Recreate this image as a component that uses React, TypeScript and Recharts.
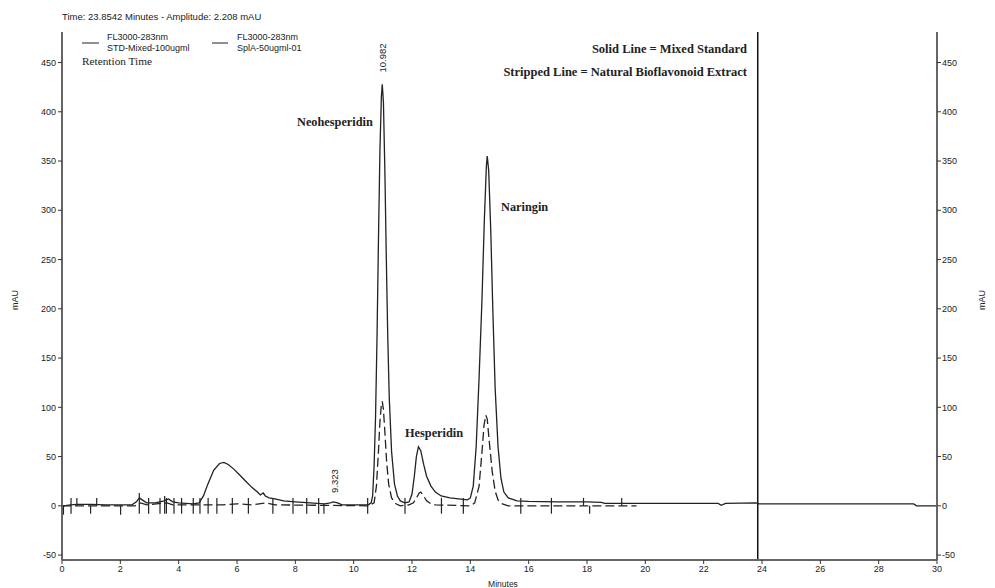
import React from 'react';
import { LineChart, Line, XAxis, YAxis, ReferenceLine } from 'recharts';

// Mixed standard (solid line): retention time (min), absorbance (mAU)
const stdTimes = [0, 0.05, 0.3, 0.5, 1.0, 1.5, 2.0, 2.4, 2.55, 2.65, 2.75, 2.9, 3.2, 3.5, 3.65, 3.8, 4.0, 4.5, 4.7, 4.85, 5.0, 5.2, 5.4, 5.55, 5.7, 5.9, 6.1, 6.3, 6.5, 6.7, 6.8, 6.9, 6.97, 7.1, 7.3, 7.6, 8.0, 8.5, 9.0, 9.2, 9.3, 9.45, 9.6, 10.0, 10.5, 10.6, 10.65, 10.7, 10.75, 10.8, 10.85, 10.9, 10.95, 10.98, 11.02, 11.07, 11.12, 11.17, 11.22, 11.3, 11.4, 11.5, 11.6, 11.75, 11.9, 12.0, 12.08, 12.15, 12.22, 12.3, 12.4, 12.5, 12.65, 12.8, 13.0, 13.3, 13.6, 13.9, 14.0, 14.1, 14.2, 14.3, 14.4, 14.48, 14.55, 14.58, 14.63, 14.7, 14.77, 14.85, 14.95, 15.05, 15.15, 15.3, 15.6, 16.0, 17.0, 18.0, 18.5, 18.6, 20.0, 22.5, 22.6, 22.75, 23.8, 23.9, 29.2, 29.3, 30];
const stdValues = [0, 0, 1, 1.5, 1.5, 1, 1, 1, 4, 8, 6, 3, 3, 5, 7, 4, 3, 2, 3, 10, 22, 36, 43, 44, 42, 37, 31, 25, 19, 14, 11, 13, 10, 8, 7, 5, 4, 3, 2, 3, 4, 3, 1, 1, 1, 3, 10, 40, 90, 170, 270, 360, 415, 428, 410, 340, 250, 170, 110, 55, 22, 10, 5, 3, 4, 12, 30, 50, 60, 56, 42, 30, 20, 14, 10, 8, 7, 6, 8, 20, 60, 130, 210, 290, 345, 355, 340, 280, 200, 120, 60, 28, 14, 8, 5, 4.5, 4, 4, 3.5, 2.5, 2.5, 2.5, 0.5, 2.5, 3, 2, 2, 0, 0];

// Natural bioflavonoid extract (dashed line)
const extTimes = [0, 2.5, 2.7, 2.9, 3.6, 3.8, 5.5, 6.0, 6.5, 7.0, 7.3, 10.5, 10.7, 10.78, 10.85, 10.9, 10.95, 10.98, 11.02, 11.07, 11.13, 11.2, 11.3, 11.45, 11.6, 11.9, 12.05, 12.15, 12.25, 12.3, 12.4, 12.5, 12.65, 12.8, 14.0, 14.15, 14.3, 14.4, 14.47, 14.53, 14.58, 14.65, 14.75, 14.85, 14.95, 15.1, 15.3, 19.7];
const extValues = [0, 0, 3, 1, 3, 1, 1, 2, 1, 3, 1, 0, 3, 20, 55, 85, 103, 106, 98, 75, 45, 22, 8, 2, 0, 1, 3, 8, 13, 14, 10, 5, 2, 1, 0, 3, 20, 55, 82, 92, 88, 65, 35, 15, 6, 2, 0, 0];

// Integration event markers: time, extent above and below baseline (mAU)
const eventTimes = [0.05, 0.31, 0.51, 0.98, 1.19, 2.01, 2.65, 2.97, 3.36, 3.52, 3.58, 3.84, 4.10, 4.50, 4.73, 5.01, 5.31, 5.84, 6.39, 7.23, 7.92, 8.39, 8.80, 8.98, 10.48, 11.76, 13.01, 13.76, 15.73, 16.78, 17.88, 18.09, 19.19];
const eventUp = [0, 8, 8, 0, 8, 0, 13, 8, 8, 10, 8, 8, 8, 8, 8, 8, 8, 8, 8, 8, 8, 8, 8, 2, 8, 8, 8, 8, 8, 8, 8, 0, 8];
const eventDown = [9, 8, 0, 8, 0, 9, 8, 8, 8, 8, 8, 8, 8, 8, 8, 8, 8, 8, 8, 8, 8, 8, 8, 8, 8, 8, 8, 8, 8, 8, 0, 8, 0];

const xTicks = [0, 2, 4, 6, 8, 10, 12, 14, 16, 18, 20, 22, 24, 26, 28, 30];
const yTicks = [-50, 0, 50, 100, 150, 200, 250, 300, 350, 400, 450];
const cursorTime = 23.8542;

const stdData = stdTimes.map((t, i) => ({ t, v: stdValues[i] }));
const extData = extTimes.map((t, i) => ({ t, v: extValues[i] }));

const SANS = 'Liberation Sans, Arial, sans-serif';
const SERIF = 'Liberation Serif, DejaVu Serif, serif';
const tickStyle = { fontSize: 9, fill: '#222', fontFamily: SANS };

export default function App() {
  return (
    <div style={{ position: 'absolute', left: 0, top: 0, width: 995, height: 588, background: '#fff' }}>
      <LineChart width={995} height={588} margin={{ top: 32, right: 0, bottom: 0, left: 0 }}>
        <XAxis
          xAxisId="b"
          type="number"
          dataKey="t"
          domain={[0, 30]}
          ticks={xTicks}
          allowDataOverflow
          height={28}
          tickSize={4}
          tickMargin={2}
          tick={tickStyle}
          stroke="#666"
          axisLine={{ stroke: '#666', strokeWidth: 2 }}
          tickLine={{ stroke: '#333' }}
        />
        <XAxis xAxisId="top" orientation="top" type="number" dataKey="t" domain={[0, 30]} height={0} tick={false} tickLine={false} axisLine={{ stroke: '#222', strokeWidth: 1.5 }} />
        <YAxis
          yAxisId="l"
          domain={[-55, 481]}
          ticks={yTicks}
          allowDataOverflow
          width={62}
          tickSize={4}
          tickMargin={2}
          tick={tickStyle}
          axisLine={{ stroke: '#666', strokeWidth: 2 }}
          tickLine={{ stroke: '#333' }}
        />
        <YAxis
          yAxisId="r"
          orientation="right"
          domain={[-55, 481]}
          ticks={yTicks}
          allowDataOverflow
          width={58}
          tickSize={4}
          tickMargin={1}
          tick={tickStyle}
          axisLine={{ stroke: '#666', strokeWidth: 2 }}
          tickLine={{ stroke: '#333' }}
        />
        {eventTimes.map((t, i) => (
          <ReferenceLine
            key={'ev' + i}
            xAxisId="b"
            yAxisId="l"
            segment={[{ x: t, y: -eventDown[i] }, { x: t, y: eventUp[i] }]}
            stroke="#222"
            strokeWidth={1.2}
          />
        ))}
        <ReferenceLine xAxisId="b" yAxisId="l" x={cursorTime} stroke="#111" strokeWidth={1.5} />
        <Line xAxisId="b" yAxisId="l" data={extData} dataKey="v" type="linear" stroke="#222" strokeWidth={1.3} strokeDasharray="9 4" dot={false} isAnimationActive={false} />
        <Line xAxisId="b" yAxisId="l" data={stdData} dataKey="v" type="linear" stroke="#222" strokeWidth={1.3} dot={false} isAnimationActive={false} />
      </LineChart>
      <svg width={995} height={588} style={{ position: 'absolute', left: 0, top: 0, pointerEvents: 'none' }}>
        <text x={62} y={20} fontSize={9.5} fontFamily={SANS} fill="#222">Time:  23.8542 Minutes - Amplitude:  2.208 mAU</text>
        <line x1={82} y1={43} x2={99} y2={43} stroke="#222" strokeWidth={1} />
        <text x={107} y={40} fontSize={9} fontFamily={SANS} fill="#222">FL3000-283nm</text>
        <text x={107} y={51} fontSize={9} fontFamily={SANS} fill="#222">STD-Mixed-100ugml</text>
        <line x1={212} y1={43} x2={228} y2={43} stroke="#222" strokeWidth={1} />
        <text x={237} y={40} fontSize={9} fontFamily={SANS} fill="#222">FL3000-283nm</text>
        <text x={237} y={51} fontSize={9} fontFamily={SANS} fill="#222">SplA-50ugml-01</text>
        <text x={82} y={65} fontSize={11.3} fontFamily={SERIF} fill="#222">Retention Time</text>
        <text x={747} y={53} fontSize={12.5} fontWeight="bold" fontFamily={SERIF} fill="#222" textAnchor="end">Solid Line = Mixed Standard</text>
        <text x={747} y={76} fontSize={12.5} fontWeight="bold" fontFamily={SERIF} fill="#222" textAnchor="end">Stripped Line = Natural Bioflavonoid Extract</text>
        <text x={297} y={126} fontSize={12.3} fontWeight="bold" fontFamily={SERIF} fill="#222">Neohesperidin</text>
        <text x={501} y={211} fontSize={12.3} fontWeight="bold" fontFamily={SERIF} fill="#222">Naringin</text>
        <text x={405} y={437} fontSize={12.3} fontWeight="bold" fontFamily={SERIF} fill="#222">Hesperidin</text>
        <text transform="translate(386,58) rotate(-90)" fontSize={9.5} fontFamily={SANS} fill="#222" textAnchor="middle">10.982</text>
        <text transform="translate(338,481) rotate(-90)" fontSize={9.5} fontFamily={SANS} fill="#222" textAnchor="middle">9.323</text>
        <text transform="translate(18,300) rotate(-90)" fontSize={9} fontFamily={SANS} fill="#222" textAnchor="middle">mAU</text>
        <text transform="translate(985,300) rotate(-90)" fontSize={9} fontFamily={SANS} fill="#222" textAnchor="middle">mAU</text>
        <text x={503} y={587} fontSize={8.5} fontFamily={SANS} fill="#222" textAnchor="middle">Minutes</text>
      </svg>
    </div>
  );
}
